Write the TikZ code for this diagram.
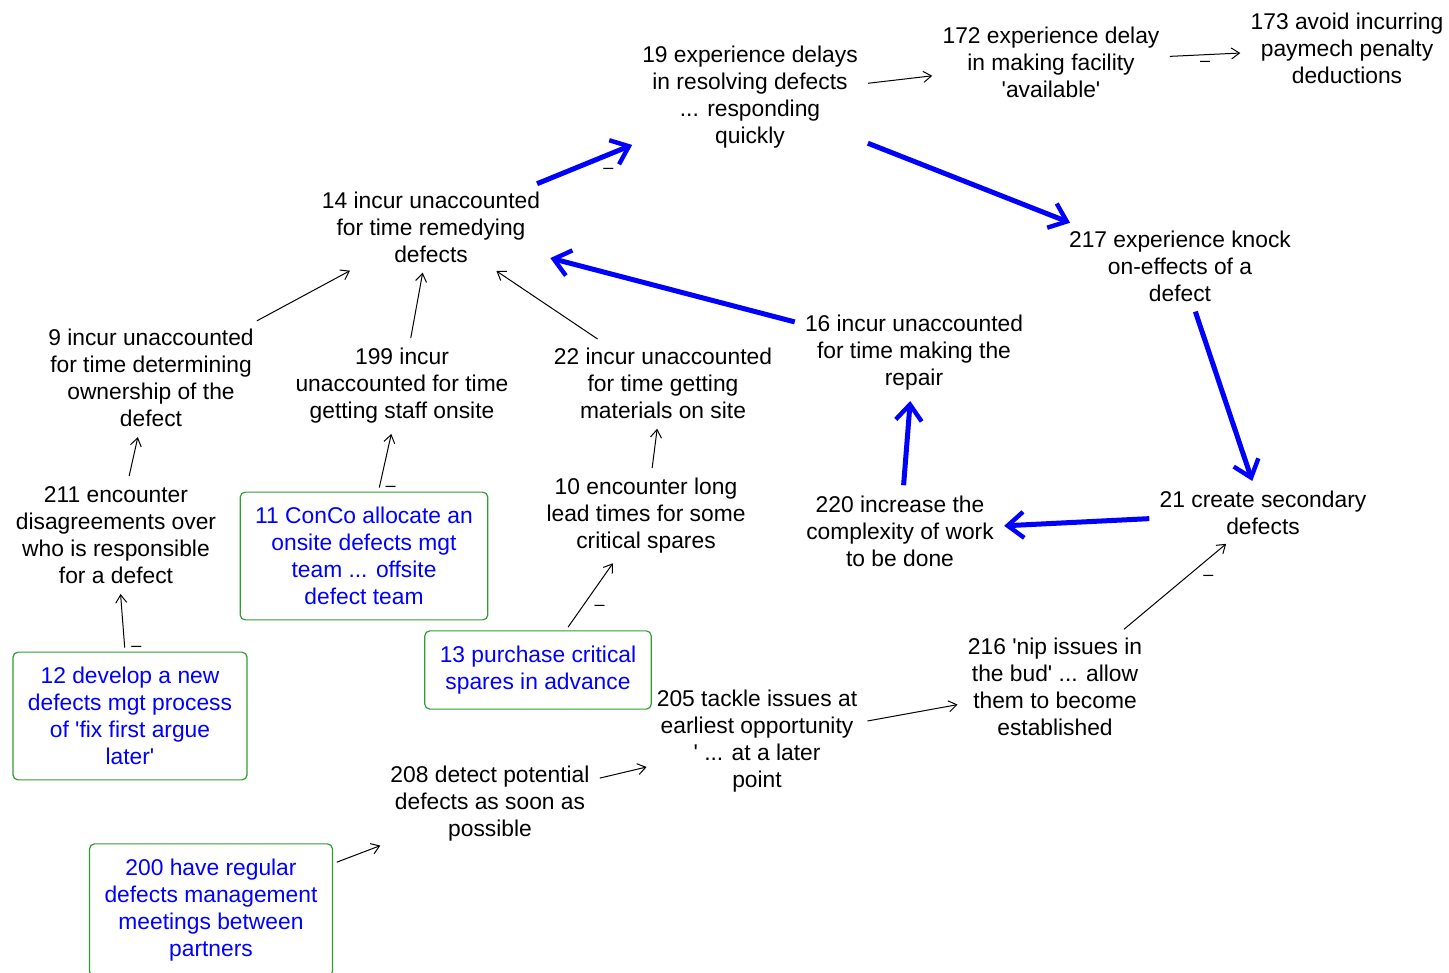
\documentclass[tikz,border=0pt]{standalone}
\usepackage{fontspec}
\setmainfont{Liberation Sans}[Ligatures=TeXOff]
\usetikzlibrary{arrows.meta}
\definecolor{boxgreen}{RGB}{50,155,50}
\definecolor{optblue}{RGB}{0,0,255}

\begin{document}
\begin{tikzpicture}[x=0.5pt,y=-0.5pt,
  idea/.style={align=center,inner sep=3pt,font=\fontsize{11.4}{13.5}\selectfont},
  option/.style={idea,draw=boxgreen,line width=0.6pt,rounded corners=2.5pt,text=optblue,inner xsep=7.5pt,inner ysep=7.5pt},
  link/.style={-{Straight Barb[length=4pt,width=5.5pt]},line width=0.5pt,shorten <=2pt,shorten >=2pt},
  strong/.style={-{Straight Barb[length=8pt,width=13pt,line width=2.2pt]},line width=2.5pt,draw=optblue,shorten <=2pt,shorten >=2pt},
  neg/.style={font=\fontsize{9}{10}\selectfont,inner sep=3pt}]
\useasboundingbox (0,0) rectangle (1449,973);
% concepts
\node[idea](n19) at (750,97) {19 experience delays\\in resolving defects\\... responding\\quickly};
\node[idea](n172) at (1051,62) {172 experience delay\\in making facility\\'available'};
\node[idea](n173) at (1347,48) {173 avoid incurring\\paymech penalty\\deductions};
\node[idea](n14) at (431,227) {14 incur unaccounted\\for time remedying\\defects};
\node[idea](n217) at (1180,266) {217 experience knock\\on-effects of a\\defect};
\node[idea](n9) at (151,378) {9 incur unaccounted\\for time determining\\ownership of the\\defect};
\node[idea](n199) at (402,386) {199 incur\\unaccounted for time\\getting staff onsite};
\node[idea](n22) at (663,383) {22 incur unaccounted\\for time getting\\materials on site};
\node[idea](n16) at (914,353) {16 incur unaccounted\\for time making the\\repair};
\node[idea](n211) at (116,535) {211 encounter\\disagreements over\\who is responsible\\for a defect};
\node[idea](n10) at (646,516) {10 encounter long\\lead times for some\\critical spares};
\node[idea](n220) at (900,531) {220 increase the\\complexity of work\\to be done};
\node[idea](n21) at (1263,513) {21 create secondary\\defects};
\node[idea](n216) at (1055,687) {216 'nip issues in\\the bud' ... allow\\them to become\\established};
\node[idea](n205) at (757,741) {205 tackle issues at\\earliest opportunity\\' ... at a later\\point};
\node[idea](n208) at (490,804) {208 detect potential\\defects as soon as\\possible};
% options
\node[option](n11) at (364,556) {11 ConCo allocate an\\onsite defects mgt\\team ... offsite\\defect team};
\node[option](n12) at (130,716) {12 develop a new\\defects mgt process\\of 'fix first argue\\later'};
\node[option](n13) at (538,670) {13 purchase critical\\spares in advance};
\node[option](n200) at (211,910) {200 have regular\\defects management\\meetings between\\partners};
% links
\draw[link](n19)--(n172);
\draw[link](n172)--node[neg,pos=0.5,below]{–}(n173);
\draw[link](n9)--(n14);
\draw[link](n199)--(n14);
\draw[link](n22)--(n14);
\draw[link](n211)--(n9);
\draw[link](n11)--node[neg,pos=0.05,right]{–}(n199);
\draw[link](n12)--node[neg,pos=0.05,right]{–}(n211);
\draw[link](n10)--(n22);
\draw[link](n13)--node[neg,pos=0.45,below right]{–}(n10);
\draw[link](n205)--(n216);
\draw[link](n216)--node[neg,pos=0.7,below right]{–}(n21);
\draw[link](n208)--(n205);
\draw[link](n200)--(n208);
% main chain
\draw[strong](n14)--node[neg,pos=0.6,below right,text=black]{–}(n19);
\draw[strong](n19)--(n217);
\draw[strong](n16)--(n14);
\draw[strong](n217)--(n21);
\draw[strong](n21)--(n220);
\draw[strong](n220)--(n16);
\end{tikzpicture}
\end{document}
